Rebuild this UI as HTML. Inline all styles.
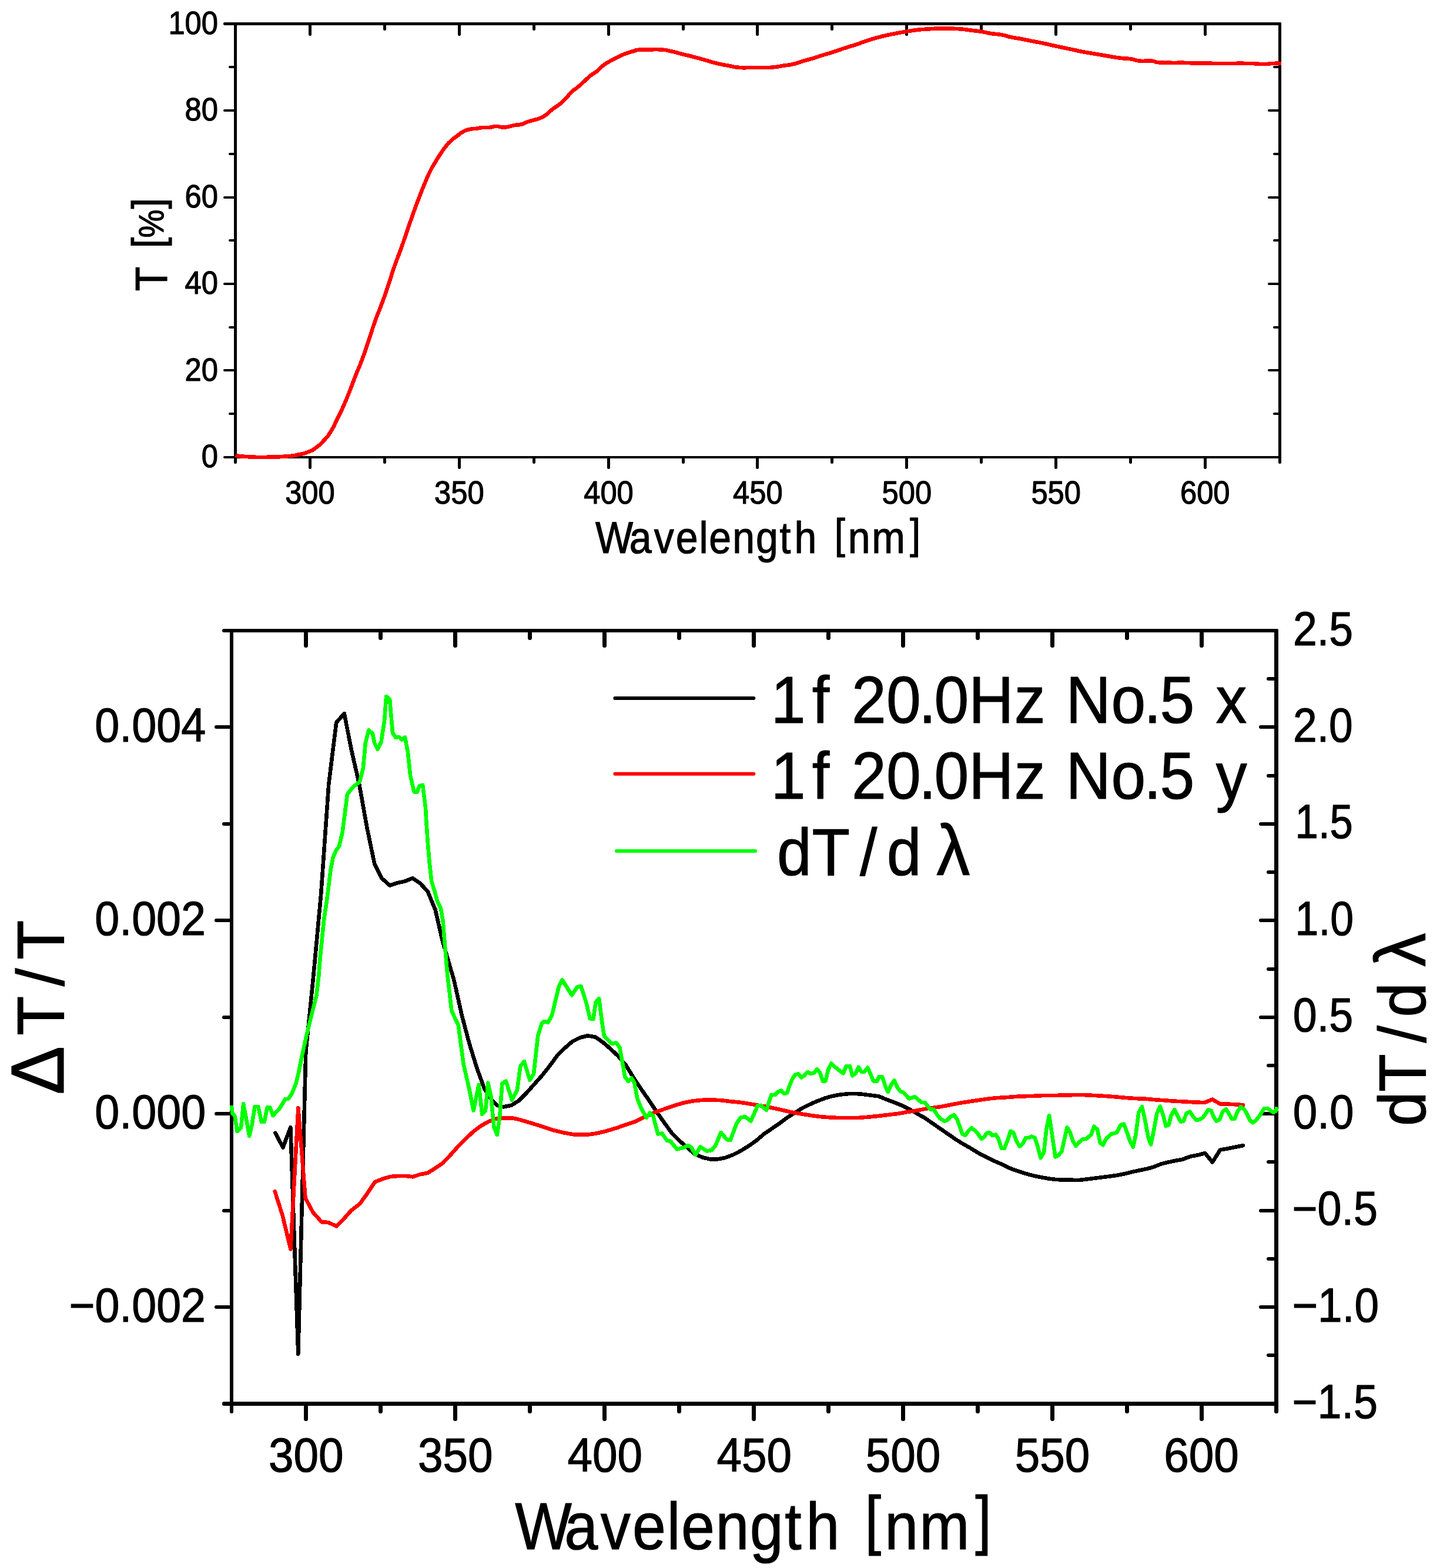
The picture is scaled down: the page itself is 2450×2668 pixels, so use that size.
<!DOCTYPE html>
<html lang="en"><head><meta charset="utf-8"><title>Transmittance and modulation spectra</title>
<style>html,body{margin:0;padding:0;background:#fff}svg{display:block}text{font-family:'Liberation Sans', 'IPAGothic', sans-serif;fill:#000;stroke:#000;stroke-width:1.2px;stroke-linejoin:round;white-space:pre}</style>
</head><body>
<svg width="2450" height="2668" viewBox="0 0 2450 2668">
<rect x="0" y="0" width="2450" height="2668" fill="#fff"/>
<g id="top-chart">
<g id="top-axes" fill="#000">
<rect x="398" y="38" width="5" height="751" rx="2"/>
<rect x="2175" y="38" width="5" height="751" rx="2"/>
<rect x="380" y="38" width="1800" height="5" rx="2"/>
<rect x="380" y="776" width="1800" height="4" rx="2"/>
<rect x="525" y="778" width="5" height="20" rx="2.5"/>
<rect x="525" y="41" width="5" height="20" rx="2.5"/>
<rect x="652" y="778" width="5" height="11" rx="2.5"/>
<rect x="652" y="41" width="5" height="11" rx="2.5"/>
<rect x="779" y="778" width="5" height="20" rx="2.5"/>
<rect x="779" y="41" width="5" height="20" rx="2.5"/>
<rect x="906" y="778" width="5" height="11" rx="2.5"/>
<rect x="906" y="41" width="5" height="11" rx="2.5"/>
<rect x="1033" y="778" width="5" height="20" rx="2.5"/>
<rect x="1033" y="41" width="5" height="20" rx="2.5"/>
<rect x="1160" y="778" width="5" height="11" rx="2.5"/>
<rect x="1160" y="41" width="5" height="11" rx="2.5"/>
<rect x="1286" y="778" width="5" height="20" rx="2.5"/>
<rect x="1286" y="41" width="5" height="20" rx="2.5"/>
<rect x="1413" y="778" width="5" height="11" rx="2.5"/>
<rect x="1413" y="41" width="5" height="11" rx="2.5"/>
<rect x="1540" y="778" width="5" height="20" rx="2.5"/>
<rect x="1540" y="41" width="5" height="20" rx="2.5"/>
<rect x="1667" y="778" width="5" height="11" rx="2.5"/>
<rect x="1667" y="41" width="5" height="11" rx="2.5"/>
<rect x="1794" y="778" width="5" height="20" rx="2.5"/>
<rect x="1794" y="41" width="5" height="20" rx="2.5"/>
<rect x="1921" y="778" width="5" height="11" rx="2.5"/>
<rect x="1921" y="41" width="5" height="11" rx="2.5"/>
<rect x="2048" y="778" width="5" height="20" rx="2.5"/>
<rect x="2048" y="41" width="5" height="20" rx="2.5"/>
<rect x="389" y="702" width="11" height="4" rx="2"/>
<rect x="2166" y="702" width="11" height="4" rx="2"/>
<rect x="380" y="628" width="20" height="4" rx="2"/>
<rect x="2157" y="628" width="20" height="4" rx="2"/>
<rect x="389" y="555" width="11" height="4" rx="2"/>
<rect x="2166" y="555" width="11" height="4" rx="2"/>
<rect x="380" y="481" width="20" height="4" rx="2"/>
<rect x="2157" y="481" width="20" height="4" rx="2"/>
<rect x="389" y="407" width="11" height="4" rx="2"/>
<rect x="2166" y="407" width="11" height="4" rx="2"/>
<rect x="380" y="334" width="20" height="4" rx="2"/>
<rect x="2157" y="334" width="20" height="4" rx="2"/>
<rect x="389" y="260" width="11" height="4" rx="2"/>
<rect x="2166" y="260" width="11" height="4" rx="2"/>
<rect x="380" y="186" width="20" height="4" rx="2"/>
<rect x="2157" y="186" width="20" height="4" rx="2"/>
<rect x="389" y="112" width="11" height="4" rx="2"/>
<rect x="2166" y="112" width="11" height="4" rx="2"/>
</g>
<path d="M400.5,775C407.53,775.73 403.77,776.27 421.6,777.2C439.43,778.13 432.33,778.03 454,777.8C475.67,777.57 468.53,777.93 486.6,776.5C504.67,775.07 495.23,776.17 508.2,773.5C521.17,770.83 515.4,772.67 525.5,768.5C535.6,764.33 529.83,767.5 538.5,761C547.17,754.5 543.57,757.67 551.5,749C559.43,740.33 555.07,746.53 562.3,735C569.53,723.47 565.97,728.83 573.2,714.4C580.43,699.97 576.8,707.93 584,691.7C591.2,675.47 587.6,683.73 594.8,665.7C602,647.67 598.37,656 605.6,637.6C612.83,619.2 609.27,630.03 616.5,610.5C623.73,590.97 620.1,600.27 627.3,579C634.5,557.73 630.9,566.87 638.1,546.7C645.3,526.53 641.7,538 648.9,518.5C656.1,499 652.47,509.47 659.7,488.2C666.93,466.93 663.37,475.6 670.6,454.7C677.83,433.8 675.37,442.2 681.4,425.5C687.43,408.8 683.4,419.93 688.7,404.6C694,389.27 691.53,396.03 697.3,379.5C703.07,362.97 700.23,370.77 706,355C711.77,339.23 708.83,347 714.6,332.2C720.37,317.4 717.5,324.33 723.3,310.6C729.1,296.87 726.23,302.53 732,291C737.77,279.47 734.83,285.7 740.6,276C746.37,266.3 743.53,270.57 749.3,261.9C755.07,253.23 752.13,257.23 757.9,250C763.67,242.77 760.1,246.33 766.6,240.2C773.1,234.07 770.2,237 777.4,231.6C784.6,226.2 781,227.83 788.2,224C795.4,220.17 791.77,221.83 799,220.1C806.23,218.37 802.67,219.83 809.9,218.8C817.13,217.77 813.5,217.6 820.7,217C827.9,216.4 823.57,217.7 831.5,217C839.43,216.3 837.27,215.1 844.5,214.9C851.73,214.7 846.7,216.1 853.2,216.4C859.7,216.7 856.8,216.87 864,215.8C871.2,214.73 866.87,214.67 874.8,213.2C882.73,211.73 880.57,213.23 887.8,211.4C895.03,209.57 890,210 896.5,207.7C903,205.4 900.1,206.63 907.3,204.5C914.5,202.37 910.9,204.33 918.1,201.3C925.3,198.27 921.7,200.47 928.9,195.4C936.1,190.33 932.47,191.73 939.7,186.1C946.93,180.47 943.37,184.27 950.6,178.5C957.83,172.73 954.2,176 961.4,168.8C968.6,161.6 965,163.77 972.2,156.9C979.4,150.03 975.77,154.33 983,148.2C990.23,142.07 986.67,145 993.9,138.5C1001.13,132 997.5,134.47 1004.7,128.7C1011.9,122.93 1008.3,126.97 1015.5,121.2C1022.7,115.43 1019.1,116.97 1026.3,111.4C1033.5,105.83 1029.87,108.67 1037.1,104.5C1044.33,100.33 1040.77,102.57 1048,98.9C1055.23,95.23 1051.6,96.67 1058.8,93.5C1066,90.33 1062.53,91.73 1069.6,89.4C1076.67,87.07 1074.53,88.03 1080,86.5C1085.47,84.97 1078.23,85.47 1086,84.8C1093.77,84.13 1090.3,84.6 1103.3,84.5C1116.3,84.4 1112,83.53 1125,84.5C1138,85.47 1130.07,84.8 1142.3,87.4C1154.53,90 1148.73,89.07 1161.7,92.3C1174.67,95.53 1168.2,93.7 1181.2,97.1C1194.2,100.5 1187.7,98.9 1200.7,102.5C1213.7,106.1 1207.2,104.8 1220.2,107.9C1233.2,111 1227.43,109.5 1239.7,111.8C1251.97,114.1 1244.73,113.7 1257,114.8C1269.27,115.9 1262.8,115 1276.5,115.1C1290.2,115.2 1285.13,115.33 1298.1,115.1C1311.07,114.87 1303.87,115.5 1315.4,114.4C1326.93,113.3 1321.17,113.6 1332.7,111.8C1344.23,110 1338.43,111.73 1350,109C1361.57,106.27 1355.83,107 1367.4,103.6C1378.97,100.2 1373.17,102.27 1384.7,98.8C1396.23,95.33 1390.47,96.8 1402,93.2C1413.53,89.6 1407.77,91.73 1419.3,88C1430.83,84.27 1423.93,86.17 1436.6,82C1449.27,77.83 1444.63,79.7 1457.3,75.5C1469.97,71.3 1463.07,73.17 1474.6,69.4C1486.13,65.63 1480.33,67.37 1491.9,64.2C1503.47,61.03 1497.73,62.5 1509.3,59.9C1520.87,57.3 1515.07,58.57 1526.6,56.4C1538.13,54.23 1532.37,55.27 1543.9,53.4C1555.43,51.53 1549.67,52.1 1561.2,50.8C1572.73,49.5 1566.97,50.23 1578.5,49.5C1590.03,48.77 1584.23,48.9 1595.8,48.6C1607.37,48.3 1600.2,48.3 1613.2,48.6C1626.2,48.9 1621.83,48.5 1634.8,49.5C1647.77,50.5 1640.57,50.17 1652.1,51.6C1663.63,53.03 1657.83,51.97 1669.4,53.8C1680.97,55.63 1675.23,55.3 1686.8,57.1C1698.37,58.9 1692.57,57.07 1704.1,59.2C1715.63,61.33 1709.87,61.1 1721.4,63.5C1732.93,65.9 1727.17,64.23 1738.7,66.4C1750.23,68.57 1744.47,67.7 1756,70C1767.53,72.3 1761.77,70.9 1773.3,73.3C1784.83,75.7 1779.03,74.67 1790.6,77.2C1802.17,79.73 1796.43,78.47 1808,80.9C1819.57,83.33 1814.1,82.13 1825.3,84.5C1836.5,86.87 1828.93,85.6 1841.6,88C1854.27,90.4 1848.87,89.23 1863.3,91.7C1877.73,94.17 1870.47,93.03 1884.9,95.4C1899.33,97.77 1893.6,97.17 1906.6,98.8C1919.6,100.43 1913.1,98.7 1923.9,100.3C1934.7,101.9 1927.47,102.5 1939,103.6C1950.53,104.7 1947.67,102.73 1958.5,103.6C1969.33,104.47 1959.93,105.13 1971.5,106.2C1983.07,107.27 1978.77,106.6 1993.2,106.8C2007.63,107 2000.37,106.57 2014.8,106.8C2029.23,107.03 2014.87,107.13 2036.5,107.5C2058.13,107.87 2050.87,107.77 2079.7,107.9C2108.53,108.03 2099.9,107.53 2123,107.9C2146.1,108.27 2134.57,109 2149,109C2163.43,109 2156.13,108.27 2166.3,107.9C2176.47,107.53 2175.1,107.9 2179.5,107.9" fill="none" stroke="#ff0000" stroke-width="6.6" stroke-linejoin="round" stroke-linecap="butt" shape-rendering="crispEdges"/>
<g id="top-labels">
<text transform="translate(342.79,795.2) scale(0.9250,1)" font-size="54.8">0</text>
<text transform="translate(314.6,647.7) scale(0.9250,1)" font-size="54.8">20</text>
<text transform="translate(314.6,500.2) scale(0.9250,1)" font-size="54.8">40</text>
<text transform="translate(314.6,352.7) scale(0.9250,1)" font-size="54.8">60</text>
<text transform="translate(314.6,205.2) scale(0.9250,1)" font-size="54.8">80</text>
<text transform="translate(286.41,57.7) scale(0.9250,1)" font-size="54.8">100</text>
<text transform="translate(485.17,857) scale(0.9250,1)" font-size="54.8">300</text>
<text transform="translate(739.02,857) scale(0.9250,1)" font-size="54.8">350</text>
<text transform="translate(993.26,857) scale(0.9250,1)" font-size="54.8">400</text>
<text transform="translate(1247.12,857) scale(0.9250,1)" font-size="54.8">450</text>
<text transform="translate(1500.55,857) scale(0.9250,1)" font-size="54.8">500</text>
<text transform="translate(1754.4,857) scale(0.9250,1)" font-size="54.8">550</text>
<text transform="translate(2007.99,857) scale(0.9250,1)" font-size="54.8">600</text>
<text transform="scale(0.9000,1)" x="1125.56 1189.75 1236.28 1277.62 1321.76 1340.42 1384.8 1428.94 1473.79 1501.6 1543.59 1577.47 1603.15 1648.17 1719.91" y="941.5 941.5 941.5 941.5 941.5 941.5 941.5 941.5 941.5 941.5 941.5 933.3 941.5 941.5 933.3" font-size="75.5">Wavelength <tspan font-size="72.5">[</tspan>nm<tspan font-size="72.5">]</tspan></text>
<text transform="translate(283.9,0) rotate(-90) scale(0.9000,1)" x="-550.26 -504.14 -469.15 -449.45 -395.02" y="0 0 -7.3 -6.3 -7.3" font-size="75.5">T <tspan font-size="73.8">[</tspan><tspan font-size="60">%</tspan><tspan font-size="73.8">]</tspan></text>
</g>
</g>
<g id="bottom-chart">
<g id="bottom-axes" fill="#000">
<rect x="391" y="1070" width="6" height="1335" rx="3"/>
<rect x="2168" y="1070" width="7" height="1335" rx="3"/>
<rect x="378" y="1070" width="1797" height="6" rx="3"/>
<rect x="378" y="2385" width="1797" height="7" rx="3"/>
<rect x="517" y="2390" width="7" height="28" rx="3.5"/>
<rect x="517" y="1074" width="7" height="28" rx="3.5"/>
<rect x="644" y="2390" width="7" height="15" rx="3.5"/>
<rect x="644" y="1074" width="7" height="15" rx="3.5"/>
<rect x="771" y="2390" width="7" height="28" rx="3.5"/>
<rect x="771" y="1074" width="7" height="28" rx="3.5"/>
<rect x="898" y="2390" width="7" height="15" rx="3.5"/>
<rect x="898" y="1074" width="7" height="15" rx="3.5"/>
<rect x="1025" y="2390" width="7" height="28" rx="3.5"/>
<rect x="1025" y="1074" width="7" height="28" rx="3.5"/>
<rect x="1152" y="2390" width="7" height="15" rx="3.5"/>
<rect x="1152" y="1074" width="7" height="15" rx="3.5"/>
<rect x="1279" y="2390" width="7" height="28" rx="3.5"/>
<rect x="1279" y="1074" width="7" height="28" rx="3.5"/>
<rect x="1406" y="2390" width="7" height="15" rx="3.5"/>
<rect x="1406" y="1074" width="7" height="15" rx="3.5"/>
<rect x="1533" y="2390" width="7" height="28" rx="3.5"/>
<rect x="1533" y="1074" width="7" height="28" rx="3.5"/>
<rect x="1660" y="2390" width="7" height="15" rx="3.5"/>
<rect x="1660" y="1074" width="7" height="15" rx="3.5"/>
<rect x="1787" y="2390" width="7" height="28" rx="3.5"/>
<rect x="1787" y="1074" width="7" height="28" rx="3.5"/>
<rect x="1914" y="2390" width="7" height="15" rx="3.5"/>
<rect x="1914" y="1074" width="7" height="15" rx="3.5"/>
<rect x="2041" y="2390" width="7" height="28" rx="3.5"/>
<rect x="2041" y="1074" width="7" height="28" rx="3.5"/>
<rect x="365" y="2221" width="28" height="6" rx="3"/>
<rect x="378" y="2057" width="15" height="6" rx="3"/>
<rect x="365" y="1892" width="28" height="6" rx="3"/>
<rect x="378" y="1728" width="15" height="6" rx="3"/>
<rect x="365" y="1563" width="28" height="6" rx="3"/>
<rect x="378" y="1399" width="15" height="6" rx="3"/>
<rect x="365" y="1234" width="28" height="6" rx="3"/>
<rect x="2155" y="2303" width="15" height="6" rx="3"/>
<rect x="2142" y="2221" width="28" height="6" rx="3"/>
<rect x="2155" y="2139" width="15" height="6" rx="3"/>
<rect x="2142" y="2057" width="28" height="6" rx="3"/>
<rect x="2155" y="1974" width="15" height="6" rx="3"/>
<rect x="2142" y="1892" width="28" height="6" rx="3"/>
<rect x="2155" y="1810" width="15" height="6" rx="3"/>
<rect x="2142" y="1728" width="28" height="6" rx="3"/>
<rect x="2155" y="1646" width="15" height="6" rx="3"/>
<rect x="2142" y="1563" width="28" height="6" rx="3"/>
<rect x="2155" y="1481" width="15" height="6" rx="3"/>
<rect x="2142" y="1399" width="28" height="6" rx="3"/>
<rect x="2155" y="1317" width="15" height="6" rx="3"/>
<rect x="2142" y="1234" width="28" height="6" rx="3"/>
<rect x="2155" y="1152" width="15" height="6" rx="3"/>
</g>
<polyline points="468.4,1927.7 481.4,1952.5 494.3,1918.2 507.3,2304 520.3,1790 533.3,1660 546.3,1520 559.3,1334.2 572.2,1229.5 585.7,1214.1 598.2,1277.4 611.2,1334.2 624.2,1407.3 637.3,1470.3 649.2,1494.2 663.3,1506.6 675.8,1502.3 688.7,1499.6 701.7,1494.2 714.7,1502.8 727.7,1516.9 740.7,1548.3 752.6,1600 772.5,1668.2 785.5,1726.6 798.4,1775.3 811.4,1817.5 824.4,1853.2 837.4,1872.7 845.5,1880.8 856.9,1883.3 869.9,1880.8 882.9,1872.7 895.8,1859.7 908.8,1845.1 921.8,1830.5 934.8,1814.3 947.8,1796.4 960.8,1783.4 973.8,1772.1 986.8,1765.6 999.7,1762.3 1013,1764.6 1026,1773.6 1039,1784.9 1051.9,1797.1 1064.9,1812.5 1077.9,1833.6 1090.9,1853.1 1103.9,1871.8 1116.9,1891.3 1129.9,1909.9 1142.9,1927.8 1155.8,1940.8 1168.8,1952.1 1181.8,1963.5 1194.8,1969.2 1207.8,1972.4 1220.8,1972.4 1233.8,1970 1246.8,1965.1 1259.7,1958.6 1272.7,1950.5 1285.7,1941.6 1300,1929.4 1313,1920.5 1326,1911.6 1339,1901.8 1351.9,1893.7 1364.9,1885.6 1377.9,1879.1 1390.9,1873.4 1403.9,1868.5 1416.9,1864.8 1429.9,1862.5 1442.9,1861.2 1455.8,1860.9 1468.8,1862 1481.8,1863.7 1494.8,1865.3 1507.8,1870.6 1520.8,1875.5 1533.8,1880.7 1546.8,1887.2 1559.7,1894.5 1572.7,1901.8 1585.7,1910.7 1600,1920.7 1613,1929.6 1626,1938.6 1639,1946.7 1651.9,1954 1664.9,1962.1 1677.9,1968.6 1690.9,1975.1 1703.9,1980.8 1716.9,1987.3 1729.9,1992.1 1742.9,1996.2 1755.8,1999.9 1768.8,2002.7 1781.8,2005.1 1794.8,2006.8 1807.8,2007.6 1820.8,2007.6 1833.8,2008.1 1846.8,2006.8 1859.7,2005.1 1872.7,2003.5 1885.7,2001.9 1900,1999.9 1913,1997.3 1926,1994.1 1939,1991.3 1951.9,1988.6 1961.7,1986 1974.7,1980.8 1987.7,1977.5 1999,1975.1 2012,1972.7 2025,1967.8 2038,1965.4 2050.2,1962.1 2062.8,1977.5 2076.1,1956.4 2088.3,1954.5 2101.3,1951.9 2115.1,1949.1" fill="none" stroke="#000000" stroke-width="6.6" stroke-linejoin="round" stroke-linecap="round" shape-rendering="crispEdges"/>
<polyline points="467.7,2027.3 480.6,2067.9 494.4,2125.5 507.4,1885.2 519.6,2038.6 532.6,2063 547.2,2079.2 558.6,2080 572.4,2086.5 584.5,2074.4 597.5,2059.7 612.1,2048.4 625.1,2030.5 638.1,2011 652.2,2005.6 664.4,2002 677.3,2001 690.3,2001 702.5,2002.3 714.7,1998.3 727.7,1995.8 740.6,1987.7 753.6,1978.8 766.6,1965 779.6,1950.4 792.6,1937.4 805.6,1925.2 818.6,1915.5 831.6,1908.2 844.5,1903.3 857.5,1902.5 872.1,1902.5 883.5,1904.9 899.7,1909.8 916,1914.7 940,1922.8 960,1927.5 976,1930.4 990,1930.8 1000,1930.6 1016.2,1928.2 1032.5,1924.2 1048.7,1919.4 1064.9,1913.6 1081.2,1908.3 1097.4,1900.2 1113.6,1892.9 1129.9,1887.2 1146.1,1881.5 1162.3,1876.7 1178.6,1873.4 1194.8,1871.8 1211,1871.3 1227.3,1872.3 1243.5,1874.2 1259.7,1875.8 1276,1878.3 1300,1882.3 1316.2,1885.6 1332.5,1889.2 1348.7,1892.9 1364.9,1895.6 1381.2,1898.2 1397.4,1900.2 1413.6,1901.5 1429.9,1902.1 1446.1,1902.1 1462.3,1901.8 1478.6,1900.5 1494.8,1898.9 1511,1896.9 1527.3,1895 1543.5,1892.1 1559.7,1889.6 1576,1886.4 1600,1883.2 1616.2,1880.1 1632.5,1876.9 1648.7,1874.4 1664.9,1872 1681.2,1869.6 1697.4,1868 1713.6,1867.1 1729.9,1865.8 1746.1,1865.2 1762.3,1864.7 1778.6,1863.9 1794.8,1863.9 1811,1863.6 1827.3,1863.1 1843.5,1863.1 1859.7,1863.9 1876,1864.7 1900,1866.5 1916.2,1868 1932.5,1869.1 1948.7,1869.7 1964.9,1871.2 1981.2,1872.3 1997.4,1873.6 2013.6,1874.4 2029.9,1875.3 2049.4,1876.1 2062.8,1870.7 2076.1,1878.5 2088.3,1878.5 2101.3,1879.3 2115.1,1880.1" fill="none" stroke="#ff0000" stroke-width="6.6" stroke-linejoin="round" stroke-linecap="round" shape-rendering="crispEdges"/>
<polyline points="393.8,1881.2 395.4,1894.2 399.5,1899 403.5,1925 410,1919.3 414.1,1877.9 419,1903.9 424.2,1933.1 428.7,1913.6 433.6,1882.8 439.3,1882.8 444.9,1908.8 449.8,1908.8 454.7,1884.4 459.5,1884.4 464.4,1898.2 475.8,1886 485.5,1869.8 490.4,1869.8 496.9,1860.1 503.4,1843.8 508.2,1824.4 513.1,1800 521.9,1759.7 530,1727.3 538.2,1694.8 542.2,1662.3 544.7,1629.9 547.9,1597.4 551.2,1564.9 556,1532.5 560.1,1500 562.5,1480 566.6,1459.2 571.4,1447.9 577.1,1439.7 582.8,1415.4 590.9,1351.3 600.6,1339.1 612,1330.2 617.7,1308.2 621.8,1264.4 627.4,1242.5 633.9,1248.2 637.2,1264.4 642.5,1275 648.5,1262.8 654.2,1225.5 657.1,1184.9 663.1,1189.7 668,1246.6 672.9,1254.7 678.6,1253.9 683.4,1258.7 689.1,1254.7 694,1280.6 698.1,1319.6 704.5,1347.2 709.4,1348 713.5,1337.5 719.2,1335.8 724,1374.8 725.5,1400 727.7,1432.5 730.4,1464.9 734.2,1499.6 739.6,1516.9 743.9,1533.1 749.9,1545 753.7,1567.7 756.2,1600 761.1,1656.8 768.4,1720.1 779.8,1744.5 788.7,1811 798.4,1853.2 805.6,1889.5 814.6,1845.8 820.3,1896 826,1889.5 830.4,1842.5 835.3,1865.2 840.5,1917.9 845.8,1930.9 850.2,1900 854.4,1843.5 860.9,1839.6 871,1871.7 880,1854.5 885.3,1814.3 891.8,1806.2 901.5,1837.8 908,1827.3 915.3,1762.3 921.8,1741.2 925.9,1738 932.4,1739.6 938.9,1728.2 951,1677.9 956.7,1667.4 972.9,1693.3 981.9,1679.5 988.4,1677.9 997.3,1705.5 1003.8,1733.1 1009.5,1733.9 1013.5,1705.5 1019.2,1699 1024.1,1738 1027.8,1762.3 1040.6,1776 1048.7,1774.4 1054.4,1782.5 1058.4,1804.4 1063.3,1832 1069,1840.1 1074.7,1834.4 1079.5,1843.4 1084.4,1869.4 1090.9,1885.6 1099.8,1901.8 1105.5,1893.7 1111.2,1898.6 1119.3,1929.4 1126.6,1928.6 1134.7,1940.8 1140.4,1941.6 1151.8,1955.4 1162.3,1953 1170.5,1948.9 1176.1,1952.1 1183.4,1965.1 1191.6,1951.3 1202.1,1958.6 1211,1957 1217.5,1948.9 1226.5,1927 1237,1939.2 1242.7,1940 1253.2,1911.6 1259.7,1901.8 1267.9,1900.2 1277.6,1907.5 1289,1881.5 1294.6,1880.7 1300,1885.6 1304.1,1888.8 1308.1,1875.8 1312.2,1862.9 1318.7,1862.9 1324.4,1857.2 1329.2,1855.6 1334.1,1861.2 1339,1859.6 1343,1848.2 1347.9,1836.1 1352.8,1828.8 1358.4,1827.1 1363.3,1833.6 1368.2,1830.4 1373.9,1823.9 1379.5,1827.1 1385.2,1825.5 1390.1,1819 1395,1825.5 1399.8,1839.3 1404.7,1839.3 1408.8,1820.6 1414.4,1809.3 1420.1,1815 1428.2,1821.5 1434.7,1826.3 1439.6,1814.2 1446.1,1814.2 1450.2,1830.4 1455.8,1826.3 1460.7,1815.8 1465.6,1823.9 1470.5,1823.9 1476.1,1816.6 1480.2,1825.5 1485.9,1839.3 1491.6,1840.1 1495.6,1832 1501.3,1832.8 1506.2,1848.2 1510.7,1858 1516.7,1845 1521.6,1838.5 1526.5,1849.9 1532.1,1857.2 1537,1858.8 1546.8,1869.4 1556.5,1866.1 1567.9,1875.8 1573.5,1875.8 1582.5,1887.2 1589,1888 1595.5,1898.6 1600,1903.5 1606.5,1907.7 1611.4,1906.1 1617.9,1899.6 1623.5,1897.2 1628.4,1904.5 1632.5,1915.8 1637.3,1929.6 1642.2,1932.1 1647.1,1924.8 1652.8,1919.1 1659.3,1924 1664.1,1929.6 1669.8,1937.8 1674.7,1934.5 1678.7,1928 1683.6,1927.2 1688.5,1932.1 1694.2,1930.5 1698.2,1936.9 1703.9,1954 1708.8,1954 1714.4,1940.2 1719.3,1924.8 1724.2,1927.2 1729.1,1941 1734.7,1950.7 1740.4,1945.9 1745.3,1936.1 1750.2,1936.1 1755,1933.7 1760.7,1936.1 1765.6,1950.7 1770.5,1970.2 1776.1,1960.5 1780.2,1922.3 1785.1,1898 1789.9,1930.5 1795.6,1968.6 1800.5,1966.2 1806.2,1959.7 1811,1938.6 1815.6,1918.3 1820.8,1927.2 1825.6,1941.8 1830.5,1949.9 1836.2,1943.4 1841.9,1938.6 1848.4,1937.8 1856.5,1930.5 1861.4,1916.7 1867,1921.5 1871.9,1945.1 1876.8,1948.3 1882.5,1936.9 1890.6,1929.6 1900,1927.2 1906.5,1914.2 1912.2,1912.6 1917,1925.6 1922.7,1941.8 1927.9,1951.6 1932.5,1930.5 1937.3,1893.1 1943,1883.4 1947.9,1904.5 1953.6,1935.3 1958.1,1947.5 1963.3,1922.3 1968.2,1894.7 1973.9,1882.6 1979.5,1899.6 1983.6,1915.8 1988.5,1914.2 1992.5,1898 1998.2,1888.2 2003.9,1899.6 2008.8,1908.5 2013.6,1907.7 2018.5,1894.7 2024.2,1891.5 2029.9,1899.6 2034.7,1905.3 2039.6,1905.3 2046.1,1902 2051,1895.6 2055.8,1888.2 2060.7,1889.9 2064.8,1900.4 2069.6,1907.7 2075.3,1904.5 2080.2,1891.5 2085.9,1887.4 2090.7,1894.7 2095.6,1903.7 2100.5,1903.7 2105.4,1891.5 2111,1883.4 2117.5,1888.2 2122.4,1897.2 2126.5,1906.1 2131.3,1910.2 2137,1906.1 2143.5,1898 2150.8,1885.8 2156.5,1885.8 2166.2,1893.1 2171.1,1889.9 2172.7,1883.4" fill="none" stroke="#00ff00" stroke-width="6.6" stroke-linejoin="round" stroke-linecap="butt" shape-rendering="crispEdges"/>
<g id="legend">
<line x1="1046.4" y1="1188" x2="1282.3" y2="1188" stroke="#000000" stroke-width="6" stroke-linecap="round"/>
<line x1="1046.4" y1="1316.8" x2="1282.3" y2="1316.8" stroke="#ff0000" stroke-width="6" stroke-linecap="round"/>
<line x1="1049" y1="1448" x2="1285" y2="1448" stroke="#00ff00" stroke-width="6" stroke-linecap="round"/>
<text transform="scale(0.9300,1)" x="1410.48 1485.84 1517.43 1558.17 1621.61 1680.98 1709.24 1772.2 1855.76 1912.61 1949.88 2032.68 2092.81 2122.15 2185.38 2224.18" y="1229.7" font-size="113.7">1f 20.0Hz No.5 x</text>
<text transform="scale(0.9300,1)" x="1410.48 1485.84 1517.43 1558.17 1621.61 1680.98 1709.24 1772.2 1855.76 1912.61 1949.88 2032.68 2092.81 2122.15 2185.38 2224.56" y="1358.6" font-size="113.7">1f 20.0Hz No.5 y</text>
<text transform="scale(0.9300,1)" x="1421.65 1485.36 1573.24 1622.4 1713.13" y="1489.2" font-size="113.7">dT/d<tspan font-size="123">λ</tspan></text>
</g>
<g id="bottom-labels">
<text transform="translate(161.25,1262.05) scale(0.9344,1)" font-size="80.9">0.004</text>
<text transform="translate(161.25,1590.92) scale(0.9323,1)" font-size="80.9">0.002</text>
<text transform="translate(161.25,1919.8) scale(0.9331,1)" font-size="80.9">0.000</text>
<text transform="translate(117.38,2248.67) scale(0.9316,1)" font-size="80.9">−0.002</text>
<text transform="translate(2200.01,1097.61) scale(0.9067,1)" font-size="80.9">2.5</text>
<text transform="translate(2200.02,1262.05) scale(0.9047,1)" font-size="80.9">2.0</text>
<text transform="translate(2203.61,1426.49) scale(0.8746,1)" font-size="80.9">1.5</text>
<text transform="translate(2203.54,1590.92) scale(0.8862,1)" font-size="80.9">1.0</text>
<text transform="translate(2199.82,1755.36) scale(0.9103,1)" font-size="80.9">0.5</text>
<text transform="translate(2199.79,1919.8) scale(0.9205,1)" font-size="80.9">0.0</text>
<text transform="translate(2198.46,2084.24) scale(0.9112,1)" font-size="80.9">−0.5</text>
<text transform="translate(2198.41,2248.67) scale(0.9249,1)" font-size="80.9">−1.0</text>
<text transform="translate(2198.46,2413.11) scale(0.9112,1)" font-size="80.9">−1.5</text>
<text transform="translate(457.04,2503.6) scale(0.9450,1)" font-size="80.9">300</text>
<text transform="translate(711.01,2503.6) scale(0.9450,1)" font-size="80.9">350</text>
<text transform="translate(965.55,2503.6) scale(0.9450,1)" font-size="80.9">400</text>
<text transform="translate(1219.52,2503.6) scale(0.9450,1)" font-size="80.9">450</text>
<text transform="translate(1472.83,2503.6) scale(0.9450,1)" font-size="80.9">500</text>
<text transform="translate(1726.79,2503.6) scale(0.9450,1)" font-size="80.9">550</text>
<text transform="translate(1980.35,2503.6) scale(0.9450,1)" font-size="80.9">600</text>
<text transform="scale(0.9000,1)" x="973.72 1066.86 1135.19 1195.66 1260.84 1287.66 1352.69 1417.38 1483.48 1523.8 1587.03 1635.1 1672.58 1738.12 1843.64" y="2636.2 2636.2 2636.2 2636.2 2636.2 2636.2 2636.2 2636.2 2636.2 2636.2 2636.2 2624.4 2636.2 2636.2 2624.4" font-size="113.7">Wavelength <tspan font-size="110.4">[</tspan>nm<tspan font-size="110.4">]</tspan></text>
<text transform="translate(108.2,0) rotate(-90) scale(0.9700,1)" x="-1920.3 -1816.5 -1730.23 -1683.56" y="0" font-size="113.7"><tspan font-size="128">Δ</tspan>T/T</text>
<text transform="translate(2424.6,0) rotate(-90) scale(0.9300,1)" x="-2060.61 -1997.71 -1907.95 -1861.09 -1768.48" y="0" font-size="113.7">dT/d<tspan font-size="123">λ</tspan></text>
</g>
</g>
</svg>
</body></html>
